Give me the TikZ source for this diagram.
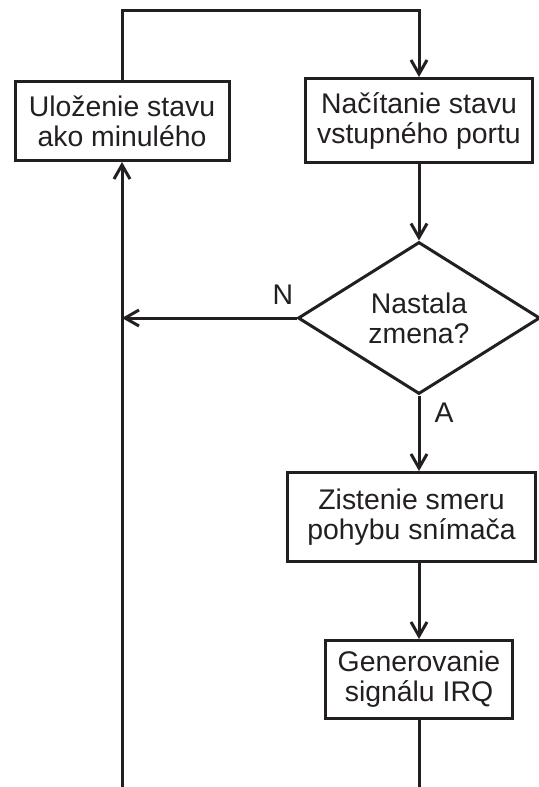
\documentclass[tikz,border=0pt]{standalone}
\usepackage{fontspec}
\setmainfont{Liberation Sans}
\usetikzlibrary{shapes.geometric,arrows.meta}
\definecolor{ink}{HTML}{231F20}

\begin{document}
\begin{tikzpicture}[x=0.5pt, y=-0.5pt, line width=1.5pt, color=ink,
    every node/.style={font=\fontsize{14.2}{15}\selectfont, align=center},
    block/.style={draw, rectangle, inner sep=0pt},
    decision/.style={draw, diamond, aspect=1.6, inner sep=0pt, minimum width=121pt, minimum height=76pt},
    flow/.style={-{Straight Barb[length=7pt, width=8pt]}}]
  \useasboundingbox (0,0) rectangle (539,787);
  \node[block, minimum width=107pt, minimum height=39.5pt] (save) at (122,121) {Uloženie stavu\\ako minulého};
  \node[block, minimum width=113.5pt, minimum height=42pt] (read) at (419,120.5) {Načítanie stavu\\vstupného portu};
  \node[decision] (change) at (419,318) {Nastala\\zmena?};
  \node[block, minimum width=124pt, minimum height=44.5pt] (detect) at (411.5,517) {Zistenie smeru\\pohybu snímača};
  \node[block, minimum width=93.5pt, minimum height=39pt] (irq) at (419,679.5) {Generovanie\\signálu IRQ};
  \node (no) at (283,295) {N};
  \node (yes) at (444,413) {A};
  \coordinate (top) at (270,10);
  \coordinate (bottom) at (270,788);
  \draw[flow] (save.north) -- (save.north |- top) -| (read.north);
  \draw[flow] (read.south) -- (change.north);
  \draw[flow] (change.west) -- (change.west -| save.south);
  \draw[flow] (change.south) -- (change.south |- detect.north);
  \draw[flow] (detect.south -| irq.north) -- (irq.north);
  \draw[flow] (irq.south) -- (irq.south |- bottom) -| (save.south);
\end{tikzpicture}
\end{document}
